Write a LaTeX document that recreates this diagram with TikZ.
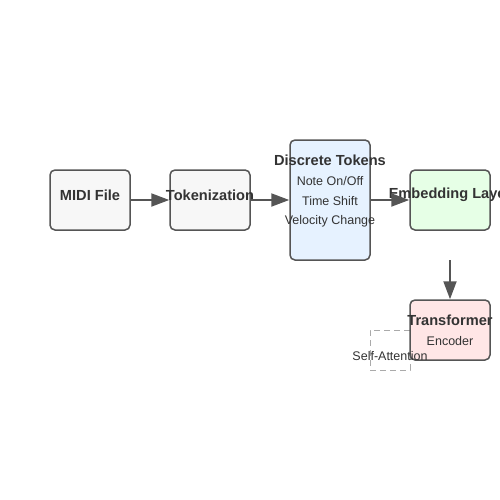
\documentclass[tikz,border=0pt]{standalone}
\usepackage{fontspec}
\setmainfont{Liberation Sans}
\usepackage{tikz}
\usetikzlibrary{arrows.meta,positioning}
\definecolor{edgeGray}{HTML}{555555}
\definecolor{textGray}{HTML}{333333}
\definecolor{boxGray}{HTML}{F7F7F7}
\definecolor{boxBlue}{HTML}{E6F2FF}
\definecolor{boxGreen}{HTML}{E6FFE6}
\definecolor{boxPink}{HTML}{FFE6E6}
\definecolor{dashGray}{HTML}{AAAAAA}

\begin{document}
\begin{tikzpicture}[x=1pt,y=-1pt,
                stage/.style={draw=edgeGray,line width=1.5pt,rounded corners=5pt,
                             minimum width=80pt,minimum height=60pt,inner sep=0pt},
                title/.style={font=\bfseries\fontsize{14.6}{16}\selectfont,text=textGray,inner sep=0pt},
                sub/.style={font=\fontsize{12.5}{14}\selectfont,text=textGray,inner sep=0pt},
                flow/.style={draw=edgeGray,line width=2pt,-{Triangle[length=18pt,width=13pt]}}
            ]
                \useasboundingbox (0,0) rectangle (500,500);
                % pipeline boxes
                \node[stage,fill=boxGray] (midi) at (90,200) {};
                \node[stage,fill=boxGray] (tok) at (210,200) {};
                \node[stage,fill=boxBlue,minimum height=120pt] (disc) at (330,200) {};
                \node[stage,fill=boxGreen] (emb) at (450,200) {};
                \node[draw=dashGray,line width=1pt,dash pattern=on 6pt off 4pt,
                      minimum width=40pt,minimum height=40pt,inner sep=0pt] (attn) at (390,350) {};
                \node[stage,fill=boxPink] (enc) at (450,330) {};
                % texts
                \node[title] (midiT) at (90,195) {MIDI File};
                \node[title] (tokT) at (210,195) {Tokenization};
                \node[title] (discT) at (330,160) {Discrete Tokens};
                \node[sub] (disc1) at (330,181) {Note On/Off};
                \node[sub] (disc2) at (330,201) {Time Shift};
                \node[sub] (disc3) at (330,221) {Velocity Change};
                \node[title] (embT) at (450,195) {Embedding Layer};
                \node[title] (encT) at (450,320) {Transformer};
                \node[sub] (encS) at (450,341) {Encoder};
                \node[sub] (attnT) at (390,356) {Self-Attention};
                % connectors
                \coordinate (embOut) at (450,260);
                \draw[flow] (midi.east) -- (tok.west);
                \draw[flow] (tok.east) -- (disc.west);
                \draw[flow] (disc.east) -- (emb.west);
                \draw[flow] (embOut) -- (enc.north);
            \end{tikzpicture}
\end{document}
